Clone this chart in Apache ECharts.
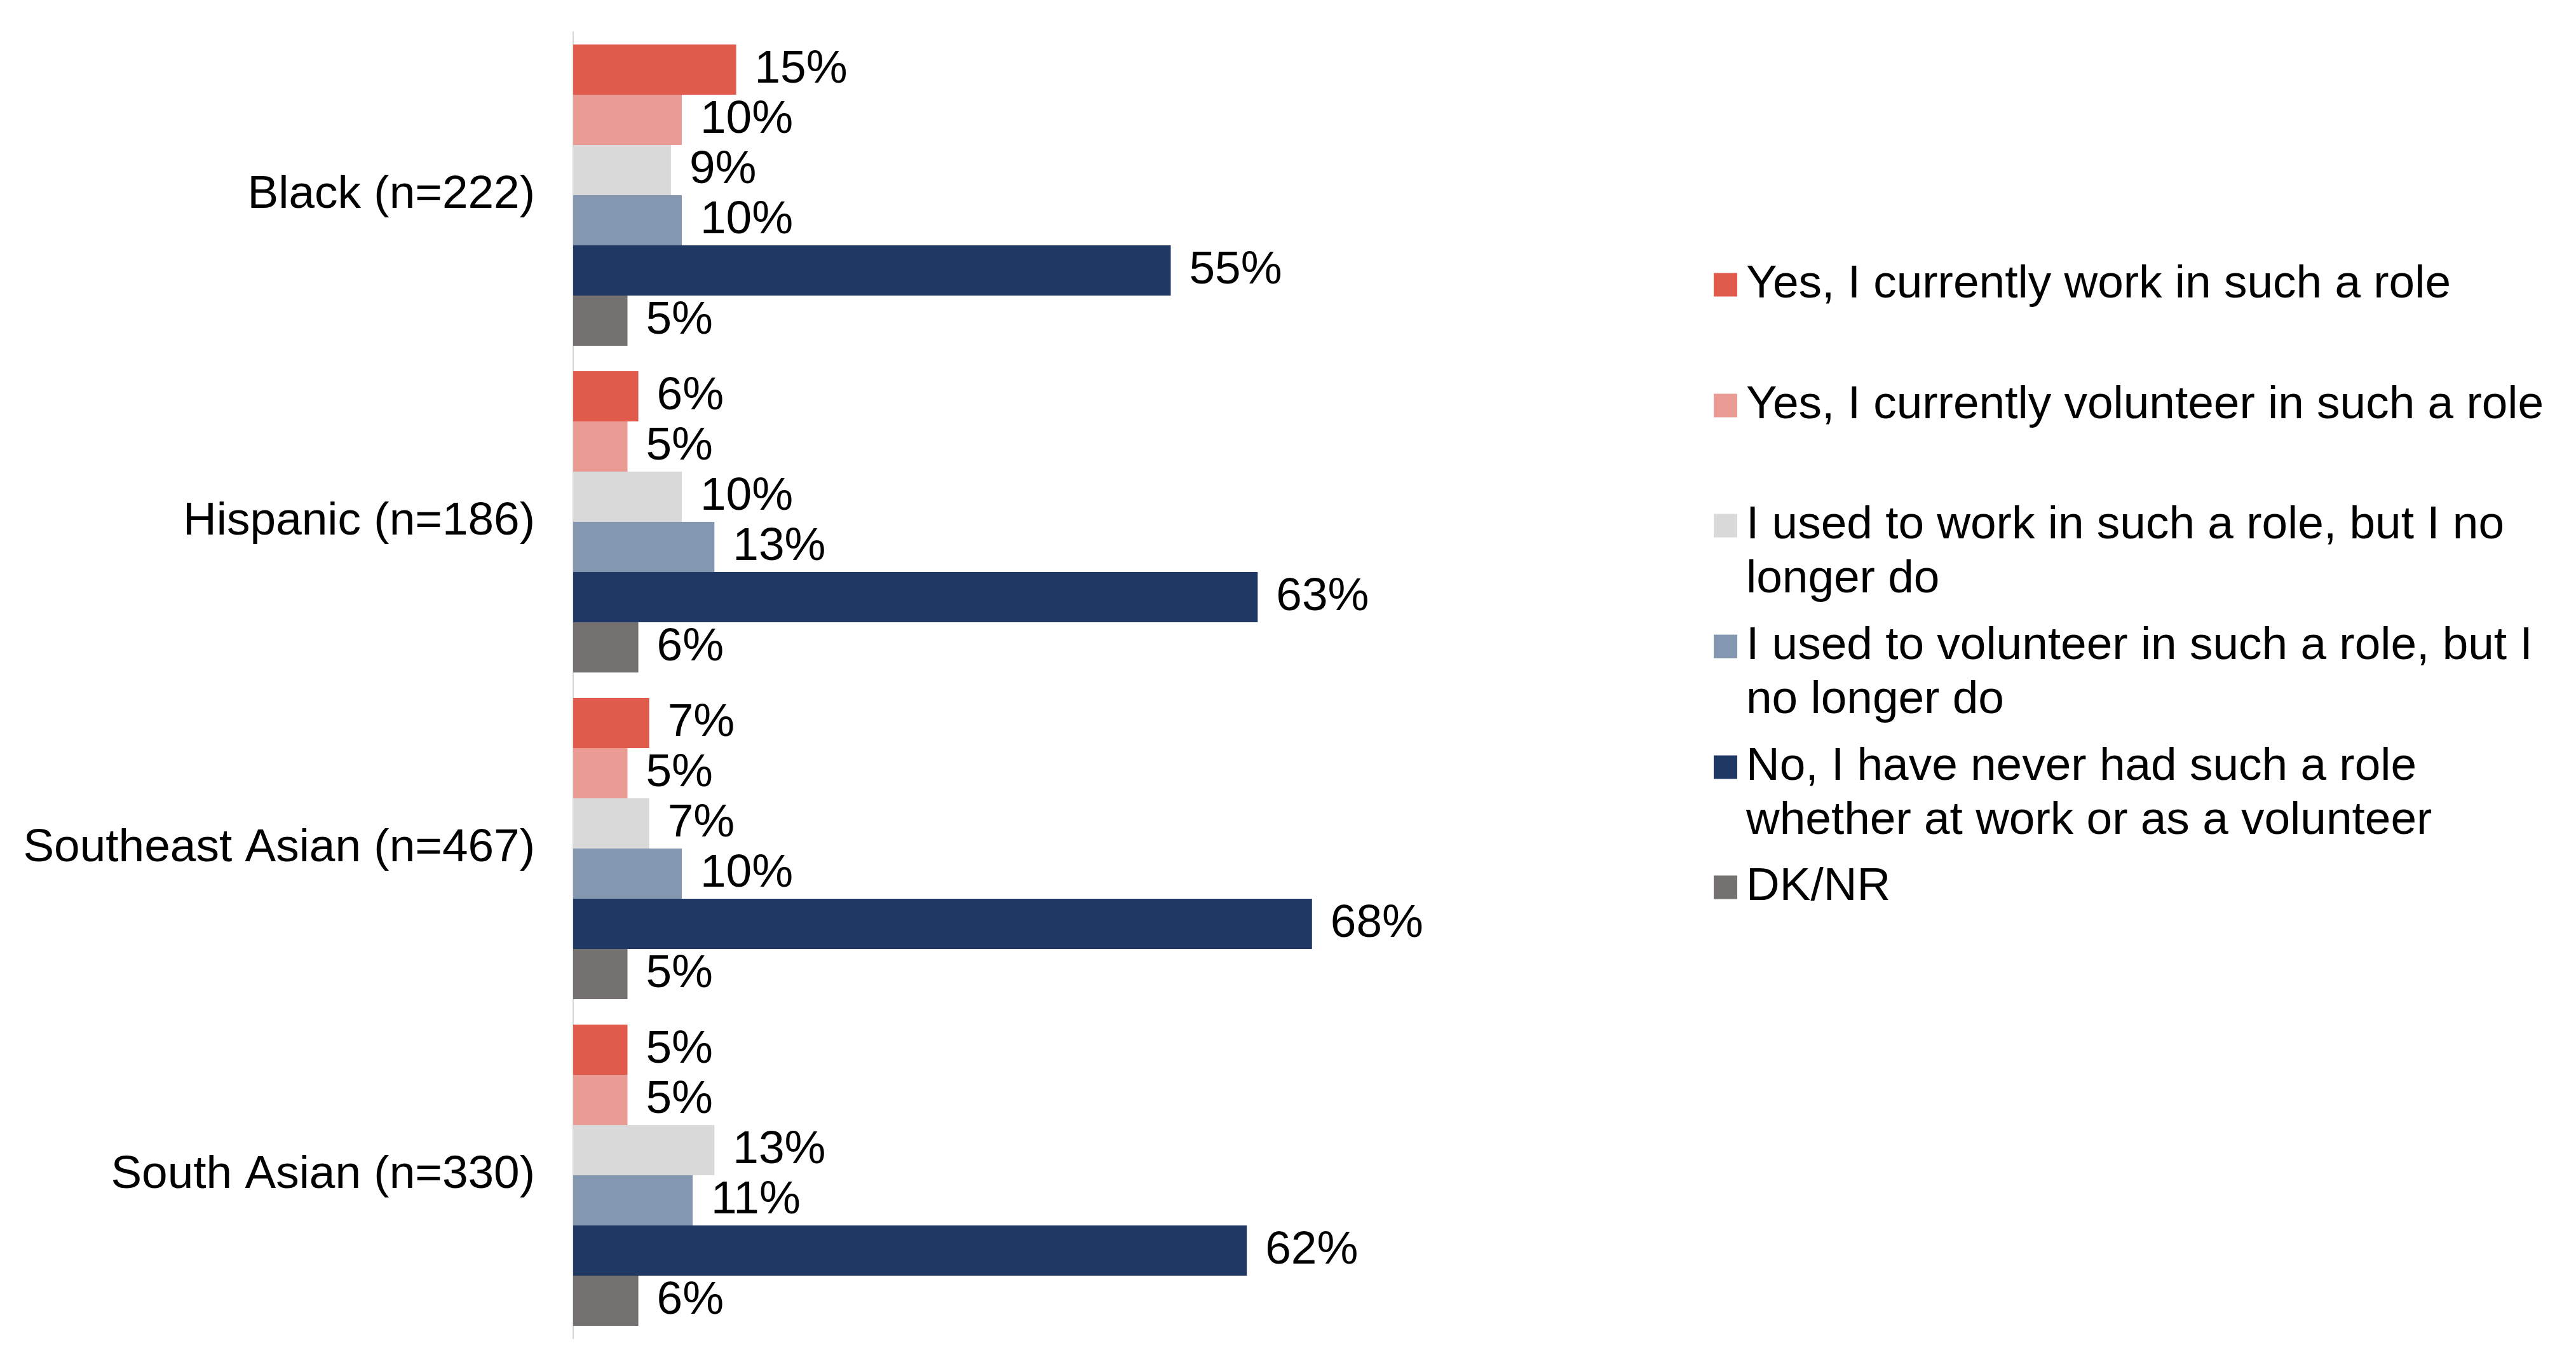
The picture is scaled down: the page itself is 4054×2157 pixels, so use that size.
<!DOCTYPE html>
<html>
<head>
<meta charset="utf-8">
<script src="https://cdn.jsdelivr.net/npm/echarts@6/dist/echarts.min.js"></script>
<style>
  html, body { margin: 0; padding: 0; background: #ffffff; }
  #chart { width: 4054px; height: 2157px; }
</style>
</head>
<body>
<div id="chart"></div>
<script>
const categories = ["Black (n=222)", "Hispanic (n=186)", "Southeast Asian (n=467)", "South Asian (n=330)"];

const seriesNames = [
  "Yes, I currently work in such a role",
  "Yes, I currently volunteer in such a role",
  "I used to work in such a role, but I no\nlonger do",
  "I used to volunteer in such a role, but I\nno longer do",
  "No, I have never had such a role\nwhether at work or as a volunteer",
  "DK/NR"
];

const workNow      = [15, 6, 7, 5];
const volunteerNow = [10, 5, 5, 5];
const usedToWork   = [9, 10, 7, 13];
const usedToVol    = [10, 13, 10, 11];
const neverHad     = [55, 63, 68, 62];
const dkNr         = [5, 6, 5, 6];

const seriesValues = [workNow, volunteerNow, usedToWork, usedToVol, neverHad, dkNr];
const colors = ["#E05B4C", "#EA9B93", "#D9D9D9", "#8497B0", "#1F3864", "#767171"];

const FONT = "'Liberation Sans', Arial, sans-serif";
const FS = 73;

const series = seriesNames.map((name, i) => ({
  name: name,
  type: 'bar',
  data: seriesValues[i],
  itemStyle: { color: colors[i] },
  barGap: '0%',
  barCategoryGap: '7.8%',
  label: {
    show: true,
    position: 'right',
    distance: 29,
    formatter: '{c}%',
    color: '#000000',
    fontFamily: FONT,
    fontSize: FS
  },
  emphasis: { disabled: true }
}));

const iconCenters = [443, 633, 822, 1012, 1202, 1391];
const legends = seriesNames.map((name, i) => {
  const multi = name.indexOf('\n') >= 0;
  const lh = 85;
  return {
    data: [name],
    orient: 'vertical',
    left: 2692,
    top: multi ? iconCenters[i] - lh * 1.5 : iconCenters[i] - lh / 2,
    itemWidth: 37,
    itemHeight: 37,
    icon: 'rect',
    selectedMode: false,
    formatter: multi ? function (n) { return '\n' + n; } : '{name}',
    textStyle: {
      color: '#000000',
      fontFamily: FONT,
      fontSize: FS,
      lineHeight: lh,
      padding: [0, 0, 0, 9]
    }
  };
});

const chart = echarts.init(document.getElementById('chart'), null, { renderer: 'canvas' });
chart.setOption({
  backgroundColor: '#ffffff',
  animation: false,
  color: colors,
  grid: { left: 902, top: 50, height: 2056, width: 1368, containLabel: false },
  xAxis: {
    type: 'value',
    min: 0,
    max: 80,
    show: false,
    splitLine: { show: false }
  },
  yAxis: {
    type: 'category',
    data: categories,
    inverse: true,
    axisLine: { show: true, lineStyle: { color: '#D9D9D9', width: 2 } },
    axisTick: { show: false },
    axisLabel: {
      color: '#000000',
      fontFamily: FONT,
      fontSize: FS,
      margin: 60
    }
  },
  legend: legends,
  series: series
});
</script>
</body>
</html>
